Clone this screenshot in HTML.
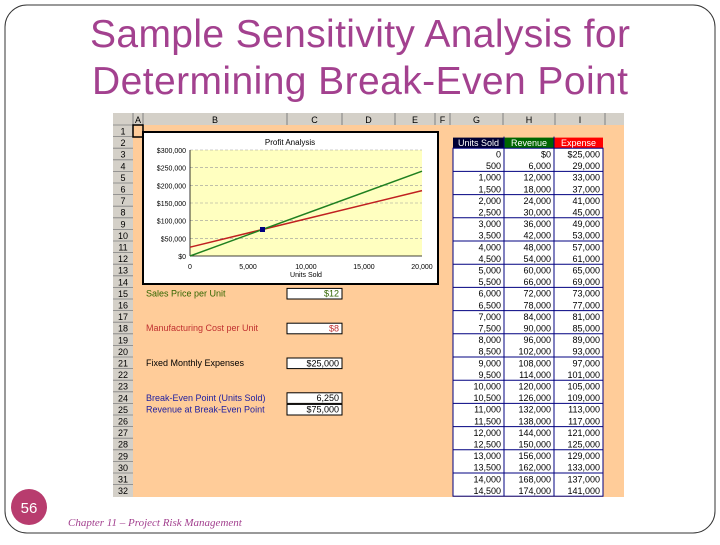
<!DOCTYPE html>
<html><head><meta charset="utf-8"><style>
body{margin:0;width:720px;height:540px;background:#fff;overflow:hidden;font-family:"Liberation Sans",sans-serif}
</style></head><body>
<svg id="s" width="720" height="540" viewBox="0 0 720 540" xmlns="http://www.w3.org/2000/svg" font-family="Liberation Sans, sans-serif">
<rect x="5" y="5" width="710" height="528" rx="22" fill="none" stroke="#333" stroke-width="1"/>
<text x="360" y="47" font-size="39" fill="#a3418f" text-anchor="middle" textLength="540">Sample Sensitivity Analysis for</text>
<text x="360" y="94" font-size="39" fill="#a3418f" text-anchor="middle" textLength="536">Determining Break-Even Point</text>
<circle cx="29" cy="507" r="18" fill="#b83c6e"/>
<text x="29" y="513" font-size="15" fill="#fff" text-anchor="middle">56</text>
<text x="68" y="526" font-size="11" font-style="italic" font-family="Liberation Serif, serif" fill="#a3418f">Chapter 11 – Project Risk Management</text>
<g id="sheet"></g>
</svg>
<script>
const units=[0,500,1000,1500,2000,2500,3000,3500,4000,4500,5000,5500,6000,6500,7000,7500,8000,8500,9000,9500,10000,10500,11000,11500,12000,12500,13000,13500,14000,14500];
const revenue=[0,6000,12000,18000,24000,30000,36000,42000,48000,54000,60000,66000,72000,78000,84000,90000,96000,102000,108000,114000,120000,126000,132000,138000,144000,150000,156000,162000,168000,174000];
const expense=[25000,29000,33000,37000,41000,45000,49000,53000,57000,61000,65000,69000,73000,77000,81000,85000,89000,93000,97000,101000,105000,109000,113000,117000,121000,125000,129000,133000,137000,141000];
const yTicks=[0,50000,100000,150000,200000,250000,300000];
const xTicks=[0,5000,10000,15000,20000];
const lineX=[0,20000];
const breakEven=[6250,75000];
const colLetters=["A","B","C","D","E","F","G","H","I"];
const NS="http://www.w3.org/2000/svg";
const g=document.getElementById('sheet');
function el(t,a,p){const e=document.createElementNS(NS,t);for(const k in a)e.setAttribute(k,a[k]);(p||g).appendChild(e);return e;}
function tx(x,y,s,a,p){const e=el('text',Object.assign({x:x,y:y},a),p);e.textContent=s;return e;}
const fmt=v=>v.toLocaleString('en-US');
let r=el('rect',{x:113,y:113,width:511,height:384,fill:'#ffcc99'});

const colB=[113,133,143,287,342,395,435,450,503,555,605,624];
r=el('rect',{x:113,y:113,width:511,height:12,fill:'#d4d0c8'});

for(let i=1;i<colB.length-1;i++){
  el('line',{x1:colB[i],y1:113,x2:colB[i],y2:125,stroke:'#808080','stroke-width':1});
  if(i-1<colLetters.length){const t=tx((colB[i]+colB[i+1])/2,123,colLetters[i-1],{'font-size':9,'text-anchor':'middle',fill:'#000'});
  }
}
const rh=11.6;
r=el('rect',{x:113,y:125,width:20,height:372,fill:'#d4d0c8'});

for(let i=0;i<32;i++){const y=125+i*rh;
  el('line',{x1:113,y1:y,x2:133,y2:y,stroke:'#808080','stroke-width':0.8});
  const t=tx(123,y+9.5,String(i+1),{'font-size':9,'text-anchor':'middle',fill:'#000'});
  }
el('rect',{x:133,y:125,width:10,height:12,fill:'none',stroke:'#000','stroke-width':1.5});
const tx0=[453,504,554,603];
const heads=[["Units Sold","#000033"],["Revenue","#006600"],["Expense","#ff0000"]];
const hy=125+rh;
heads.forEach((h,i)=>{const b=el('rect',{x:tx0[i],y:hy+1,width:tx0[i+1]-tx0[i],height:rh-1,fill:h[1]});

tx((tx0[i]+tx0[i+1])/2,hy+9.5,h[0],{'font-size':9,'text-anchor':'middle',fill:'#fff'});});
const tb=el('rect',{x:453,y:hy+rh,width:150,height:rh*units.length,fill:'#fff',stroke:'#000080','stroke-width':1});

for(let i=1;i<3;i++)el('line',{x1:tx0[i],y1:hy,x2:tx0[i],y2:hy+rh*(units.length+1),stroke:'#000080','stroke-width':1});
units.forEach((u,i)=>{const y=hy+rh*(i+1);
  if(i%2==0&&i>0)el('line',{x1:453,y1:y,x2:603,y2:y,stroke:'#000080','stroke-width':1});
  const vals=[fmt(u),(i==0?'$':'')+fmt(revenue[i]),(i==0?'$':'')+fmt(expense[i])];
  vals.forEach((v,j)=>{const t=tx(tx0[j+1]-3,y+9.3,v,{'font-size':9,'text-anchor':'end',fill:'#000'});
  });});
const inputs=[[15,"Sales Price per Unit","$12","#336600"],[18,"Manufacturing Cost per Unit","$8","#c03030"],[21,"Fixed Monthly Expenses","$25,000","#000"],[24,"Break-Even Point (Units Sold)","6,250","#2020a0"],[25,"Revenue at Break-Even Point","$75,000","#2020a0"]];
inputs.forEach((p,i)=>{const y=125+(p[0]-1)*rh;
  const l=tx(146,y+9,p[1],{'font-size':9,fill:p[3]});
  
  const b=el('rect',{x:287,y:y+1,width:55,height:rh-1,fill:'#fff',stroke:'#000','stroke-width':1});
  
  tx(339,y+9.3,p[2],{'font-size':9,'text-anchor':'end',fill:p[3]=="#2020a0"?'#000':p[3]});});
const cb=el('rect',{x:143,y:132,width:295,height:152,fill:'#fff',stroke:'#000','stroke-width':2});

const px0=190,px1=422,py0=256,py1=150;
const X=v=>px0+(v-0)/20000*(px1-px0), Y=v=>py0-(v/300000)*(py0-py1);
const pa=el('rect',{x:px0,y:py1,width:px1-px0,height:py0-py1,fill:'#ffffc0'});

const ct=tx(290,145,"Profit Analysis",{'font-size':8,'text-anchor':'middle',fill:'#000'});

yTicks.forEach(v=>{if(v>0)el('line',{x1:px0,y1:Y(v),x2:px1,y2:Y(v),stroke:'#999','stroke-width':0.6,'stroke-dasharray':'3,2'});
  const t=tx(px0-4,Y(v)+3,'$'+fmt(v),{'font-size':7,'text-anchor':'end',fill:'#000'});
  });
xTicks.forEach(v=>{const t=tx(X(v),269,fmt(v),{'font-size':7,'text-anchor':'middle',fill:'#000'});
  });
const xt=tx(306,277,"Units Sold",{'font-size':7,'text-anchor':'middle',fill:'#000'});

el('line',{x1:px0,y1:py1,x2:px0,y2:py0,stroke:'#000','stroke-width':0.8});
el('line',{x1:px0,y1:py0,x2:px1,y2:py0,stroke:'#000','stroke-width':0.8});
const rev=lineX.map(u=>12*u), exp=lineX.map(u=>25000+8*u);
let ln=el('line',{x1:X(lineX[0]),y1:Y(exp[0]),x2:X(lineX[1]),y2:Y(exp[1]),stroke:'#c02020','stroke-width':1.5});

ln=el('line',{x1:X(lineX[0]),y1:Y(rev[0]),x2:X(lineX[1]),y2:Y(rev[1]),stroke:'#208020','stroke-width':1.5});

const m=el('rect',{x:X(breakEven[0])-2.5,y:Y(breakEven[1])-2.5,width:5,height:5,fill:'#000080'});

</script>
</body></html>
